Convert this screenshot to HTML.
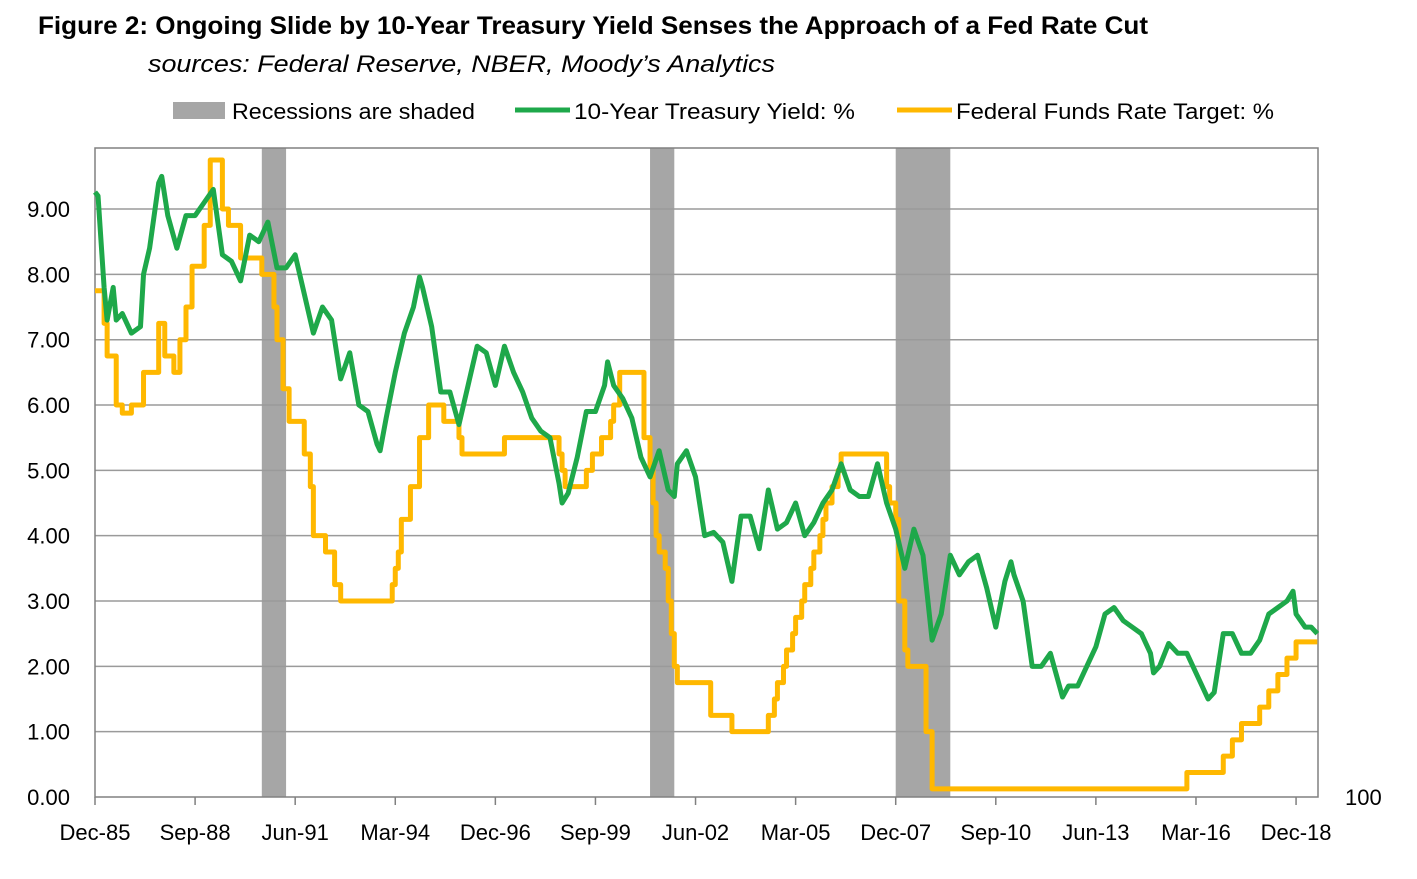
<!DOCTYPE html>
<html><head><meta charset="utf-8">
<style>
body{margin:0;background:#fff;width:1417px;height:874px;overflow:hidden;font-family:"Liberation Sans",sans-serif;}
svg text{font-family:"Liberation Sans",sans-serif;}
</style></head>
<body>
<svg id="chart" width="1417" height="874">
<text x="38" y="34" font-size="25" font-weight="bold" fill="#000" textLength="1110" lengthAdjust="spacingAndGlyphs">Figure 2: Ongoing Slide by 10-Year Treasury Yield Senses the Approach of a Fed Rate Cut</text>
<text x="148" y="72" font-size="24" font-style="italic" fill="#000" textLength="627" lengthAdjust="spacingAndGlyphs">sources: Federal Reserve, NBER, Moody’s Analytics</text>
<g>
<g><rect x="173" y="102" width="52" height="17" fill="#a6a6a6"/><text x="232" y="119" font-size="22" textLength="243" lengthAdjust="spacingAndGlyphs">Recessions are shaded</text></g>
<g><line x1="515" y1="110" x2="570" y2="110" stroke="#1ea84a" stroke-width="5"/><text x="574" y="119" font-size="22" textLength="281" lengthAdjust="spacingAndGlyphs">10-Year Treasury Yield: %</text></g>
<g><line x1="897" y1="110" x2="952" y2="110" stroke="#ffb800" stroke-width="5"/><text x="956" y="119" font-size="22" textLength="318" lengthAdjust="spacingAndGlyphs">Federal Funds Rate Target: %</text></g>
</g>
<g id="plot"></g>
<text x="1345" y="805" font-size="22">100</text>
</svg>
<script>
const yTicks=[0,1,2,3,4,5,6,7,8,9];
const xTickLabels=["Dec-85","Sep-88","Jun-91","Mar-94","Dec-96","Sep-99","Jun-02","Mar-05","Dec-07","Sep-10","Jun-13","Mar-16","Dec-18"];
const recessionStarts=["1990-07","2001-03","2007-12"];
const recessionEnds=["1991-03","2001-11","2009-06"];
const yieldDates=["1985-12","1986-01","1986-03","1986-04","1986-06","1986-07","1986-09","1986-12","1987-03","1987-04","1987-06","1987-09","1987-10","1987-12","1988-03","1988-06","1988-09","1988-12","1989-03","1989-06","1989-09","1989-12","1990-03","1990-06","1990-09","1990-12","1991-03","1991-06","1991-09","1991-12","1992-03","1992-06","1992-09","1992-12","1993-03","1993-06","1993-09","1993-10","1993-12","1994-03","1994-06","1994-09","1994-11","1994-12","1995-03","1995-06","1995-09","1995-12","1996-03","1996-06","1996-09","1996-12","1997-03","1997-06","1997-09","1997-12","1998-03","1998-06","1998-09","1998-10","1998-12","1999-03","1999-06","1999-09","1999-12","2000-01","2000-03","2000-06","2000-09","2000-12","2001-03","2001-06","2001-09","2001-11","2001-12","2002-03","2002-06","2002-09","2002-12","2003-03","2003-06","2003-09","2003-12","2004-03","2004-06","2004-09","2004-12","2005-03","2005-06","2005-09","2005-12","2006-03","2006-06","2006-09","2006-12","2007-03","2007-06","2007-09","2007-12","2008-03","2008-06","2008-09","2008-12","2009-03","2009-06","2009-09","2009-12","2010-03","2010-06","2010-09","2010-12","2011-02","2011-03","2011-06","2011-09","2011-12","2012-03","2012-07","2012-09","2012-12","2013-03","2013-06","2013-09","2013-12","2014-03","2014-06","2014-09","2014-12","2015-01","2015-03","2015-06","2015-09","2015-12","2016-03","2016-07","2016-09","2016-12","2017-03","2017-06","2017-09","2017-12","2018-03","2018-06","2018-09","2018-11","2018-12","2019-03","2019-05","2019-07"];
const yieldValues=[9.26,9.2,7.8,7.3,7.8,7.3,7.4,7.1,7.2,8.0,8.4,9.4,9.5,8.9,8.4,8.9,8.9,9.1,9.3,8.3,8.2,7.9,8.6,8.5,8.8,8.1,8.1,8.3,7.7,7.1,7.5,7.3,6.4,6.8,6.0,5.9,5.4,5.3,5.8,6.5,7.1,7.5,7.96,7.8,7.2,6.2,6.2,5.7,6.3,6.9,6.8,6.3,6.9,6.5,6.2,5.8,5.6,5.5,4.8,4.5,4.65,5.2,5.9,5.9,6.3,6.66,6.3,6.1,5.8,5.2,4.9,5.3,4.7,4.6,5.1,5.3,4.9,4.0,4.05,3.9,3.3,4.3,4.3,3.8,4.7,4.1,4.2,4.5,4.0,4.2,4.5,4.7,5.1,4.7,4.6,4.6,5.1,4.5,4.1,3.5,4.1,3.7,2.4,2.8,3.7,3.4,3.6,3.7,3.2,2.6,3.3,3.6,3.4,3.0,2.0,2.0,2.2,1.53,1.7,1.7,2.0,2.3,2.8,2.9,2.7,2.6,2.5,2.2,1.9,2.0,2.35,2.2,2.2,1.9,1.5,1.6,2.5,2.5,2.2,2.2,2.4,2.8,2.9,3.0,3.15,2.8,2.6,2.6,2.5];
const fedDates=["1985-12","1986-03","1986-04","1986-07","1986-09","1986-12","1987-04","1987-09","1987-11","1988-02","1988-04","1988-06","1988-08","1988-12","1989-02","1989-06","1989-08","1989-12","1990-07","1990-11","1990-12","1991-02","1991-04","1991-09","1991-11","1991-12","1992-04","1992-07","1992-09","1994-02","1994-03","1994-04","1994-05","1994-08","1994-11","1995-02","1995-07","1995-12","1996-01","1997-03","1998-09","1998-10","1998-11","1999-06","1999-08","1999-11","2000-02","2000-03","2000-05","2001-01","2001-03","2001-04","2001-05","2001-06","2001-08","2001-09","2001-10","2001-11","2001-12","2002-11","2003-06","2004-06","2004-08","2004-09","2004-11","2004-12","2005-02","2005-03","2005-05","2005-06","2005-08","2005-09","2005-11","2005-12","2006-01","2006-03","2006-05","2006-06","2007-09","2007-10","2007-12","2008-01","2008-03","2008-04","2008-10","2008-12","2015-12","2016-12","2017-03","2017-06","2017-12","2018-03","2018-06","2018-09","2018-12","2019-07"];
const fedValues=[7.75,7.25,6.75,6.0,5.875,6.0,6.5,7.25,6.75,6.5,7.0,7.5,8.125,8.75,9.75,9.0,8.75,8.25,8.0,7.5,7.0,6.25,5.75,5.25,4.75,4.0,3.75,3.25,3.0,3.25,3.5,3.75,4.25,4.75,5.5,6.0,5.75,5.5,5.25,5.5,5.25,5.0,4.75,5.0,5.25,5.5,5.75,6.0,6.5,5.5,5.0,4.5,4.0,3.75,3.5,3.0,2.5,2.0,1.75,1.25,1.0,1.25,1.5,1.75,2.0,2.25,2.5,2.75,3.0,3.25,3.5,3.75,4.0,4.25,4.5,4.75,5.0,5.25,4.75,4.5,4.25,3.0,2.25,2.0,1.0,0.125,0.375,0.625,0.875,1.125,1.375,1.625,1.875,2.125,2.375,2.375];

const NS="http://www.w3.org/2000/svg";
const L=95,R=1318,T=148,B=797;
function mIdx(s){const [y,m]=s.split("-").map(Number);return (y-1985)*12+(m-12);}
function xs(i){return L+i*3.033;}
function ys(v){return B-v*65.33;}
const g=document.getElementById("plot");
function mk(tag,attrs){const e=document.createElementNS(NS,tag);for(const k in attrs)e.setAttribute(k,attrs[k]);g.appendChild(e);return e;}

recessionStarts.forEach((s,i)=>{
 const x1=xs(mIdx(s)),x2=xs(mIdx(recessionEnds[i]));
 const r=mk("rect",{x:x1,y:T,width:x2-x1,height:B-T,fill:"#a6a6a6"});
 
 
});
yTicks.forEach(v=>{
 if(v>0){const l=mk("line",{x1:L,x2:R,y1:ys(v),y2:ys(v),stroke:"#9a9a9a","stroke-width":1.5});
 
 }
 const t=mk("text",{x:70,y:ys(v)+8,"font-size":22,"text-anchor":"end"});
 t.textContent=v.toFixed(2);
 
 
});
const frame=mk("rect",{x:L,y:T,width:R-L,height:B-T,fill:"none",stroke:"#808080","stroke-width":1.5});


xTickLabels.forEach((lab,i)=>{
 const x=xs(i*33);
 const tk=mk("line",{x1:x,x2:x,y1:B,y2:B+8,stroke:"#808080","stroke-width":1.5});
 
 
 const t=mk("text",{x:x,y:840,"font-size":22,"text-anchor":"middle"});
 t.textContent=lab;
 
 
});
let d="";
fedDates.forEach((s,i)=>{
 const x=xs(mIdx(s)),y=ys(fedValues[i]);
 if(i===0)d+="M"+x+","+y;else d+="H"+x+"V"+y;
});
const fp=mk("path",{d:d,fill:"none",stroke:"#ffb800","stroke-width":5,"stroke-linejoin":"round"});


const yd=yieldDates.map((s,i)=>(i?"L":"M")+xs(mIdx(s))+","+ys(yieldValues[i])).join("");
const yp=mk("path",{d:yd,fill:"none",stroke:"#1ea84a","stroke-width":5,"stroke-linejoin":"round"});


</script>
</body></html>
